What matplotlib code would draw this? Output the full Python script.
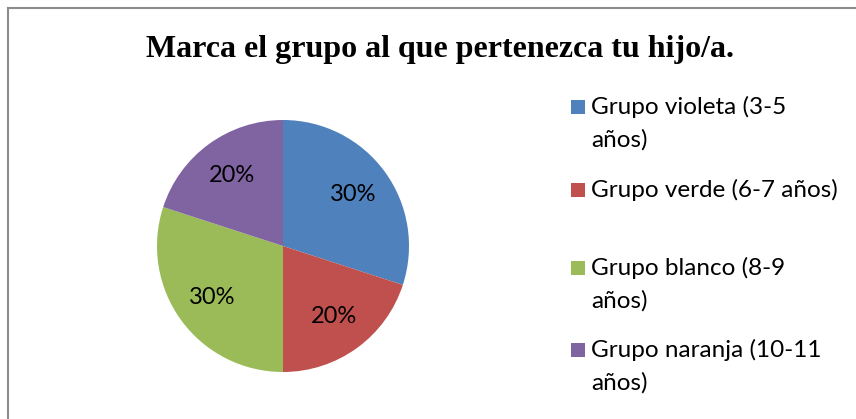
import matplotlib
matplotlib.use("Agg")
import matplotlib.pyplot as plt
from matplotlib.patches import Rectangle
from matplotlib.lines import Line2D

title = "Marca el grupo al que pertenezca tu hijo/a."
categories = ["Grupo violeta (3-5\naños)", "Grupo verde (6-7 años)",
              "Grupo blanco (8-9\naños)", "Grupo naranja (10-11\naños)"]
values = [30, 20, 30, 20]
colors = ["#4F81BD", "#C0504D", "#9BBB59", "#8064A2"]

W, H = 856, 419
fig = plt.figure(figsize=(W / 100, H / 100), dpi=100)
fig.patch.set_facecolor("white")

# border (left and top)
fig.add_artist(Line2D([8 / W, 8 / W], [0, 1 - 8 / H], transform=fig.transFigure,
                      color="#8c8c8c", lw=1.5))
fig.add_artist(Line2D([8 / W, 1], [1 - 8 / H, 1 - 8 / H], transform=fig.transFigure,
                      color="#8c8c8c", lw=1.5))

fig.text(440 / W, 1 - 50 / H, title, ha="center", va="center",
         fontsize=23, fontweight="bold", family="Liberation Serif")

cx, cy, r = 283, 246, 126
ax = fig.add_axes([(cx - r) / W, (H - cy - r) / H, 2 * r / W, 2 * r / H])
wedges, texts, autotexts = ax.pie(values, colors=colors, startangle=90, counterclock=False,
                                  autopct=lambda p: f"{p:.0f}%", pctdistance=0.69,
                                  radius=1, wedgeprops=dict(linewidth=0),
                                  textprops=dict(fontsize=17, family="Lato", color="black"))
ax.set_xlim(-1, 1)
ax.set_ylim(-1, 1)
ax.set_aspect("equal")
ax.axis("off")

# legend
first_line_y = [107, 190, 268, 350]
line_h = 33
sq = 14
for lab, col, y0 in zip(categories, colors, first_line_y):
    fig.add_artist(Rectangle(((571) / W, (H - y0 - sq / 2) / H), sq / W, sq / H,
                             transform=fig.transFigure, facecolor=col, edgecolor="none"))
    for i, line in enumerate(lab.split("\n")):
        fig.text(591 / W, (H - y0 - i * line_h) / H, line, ha="left", va="center",
                 fontsize=17.5, family="Lato", color="black")

fig.savefig("out.png", dpi=100)
